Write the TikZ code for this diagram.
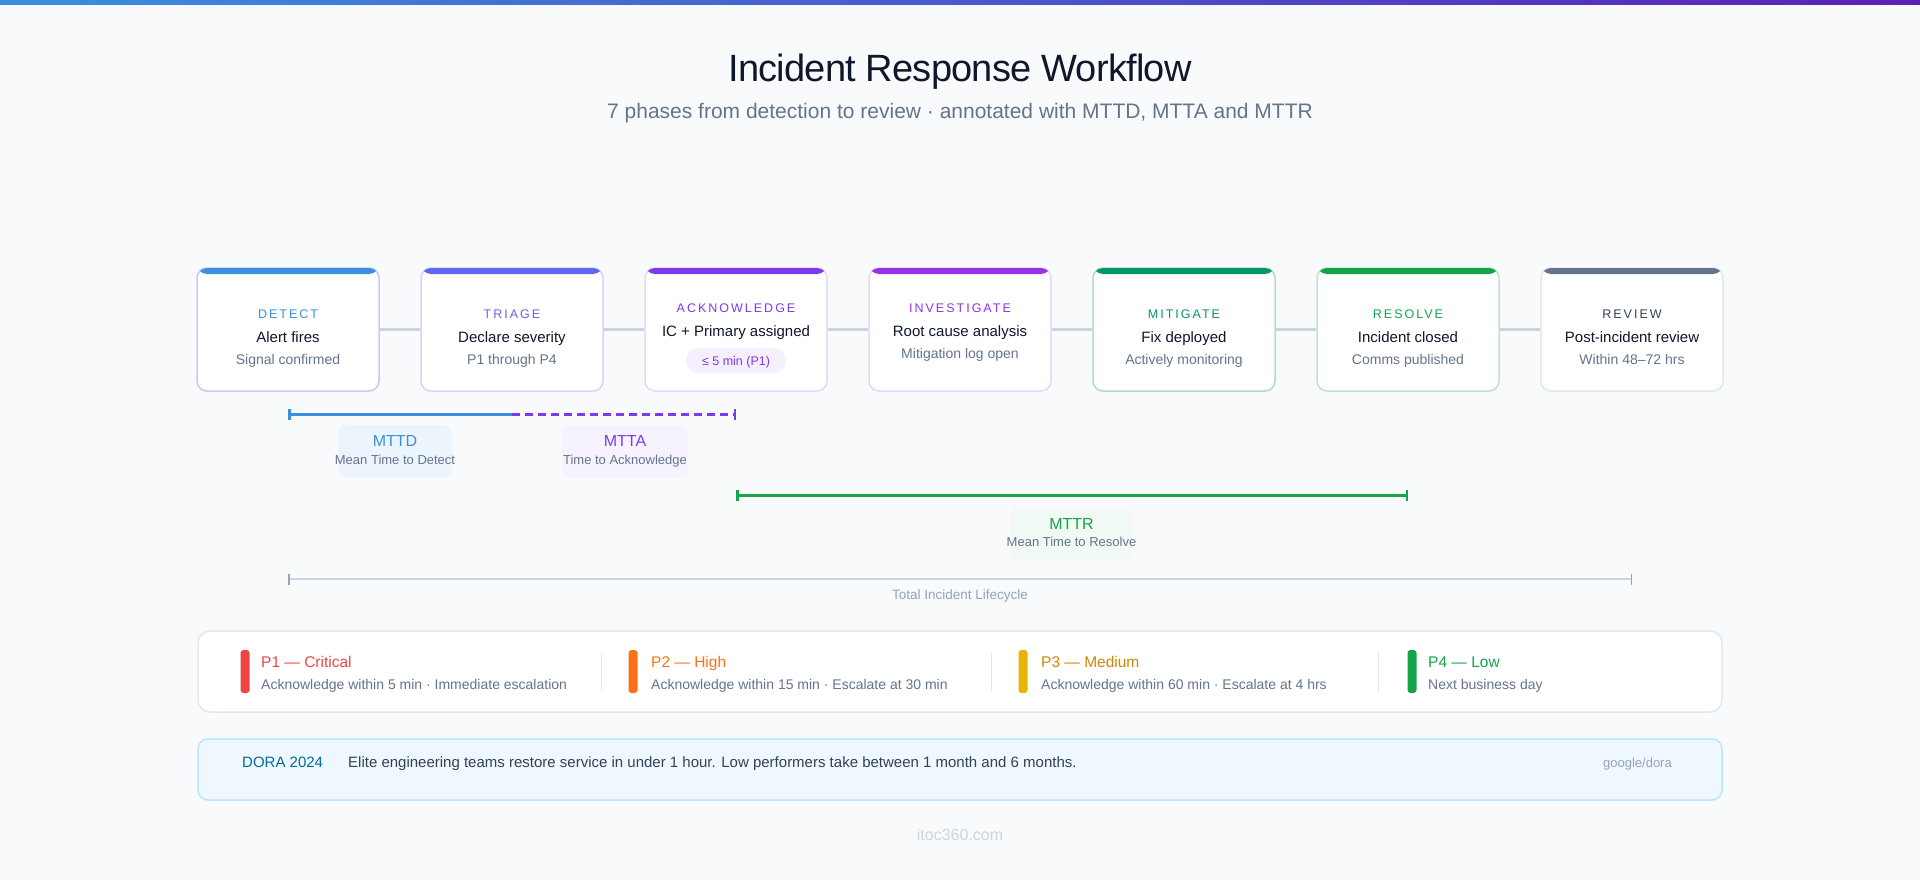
\documentclass[tikz,border=0pt]{standalone}
\usepackage{fontspec}
\setmainfont{Liberation Sans}
\newfontfamily\trackfont[LetterSpace=16]{Liberation Sans}
\newfontfamily\titlefont[LetterSpace=-2]{Liberation Sans}
\usetikzlibrary{arrows.meta,positioning}
\definecolor{irPage}{HTML}{f8fafc}
\definecolor{irInk}{HTML}{0f172a}
\definecolor{irSlate}{HTML}{64748b}
\definecolor{irMute}{HTML}{94a3b8}
\definecolor{irRule}{HTML}{cbd5e1}
\definecolor{irEdge}{HTML}{e2e8f0}
\definecolor{irSky}{HTML}{3b8fe0}
\definecolor{irIndigo}{HTML}{6366f1}
\definecolor{irViolet}{HTML}{7c3aed}
\definecolor{irPurple}{HTML}{9333ea}
\definecolor{irEmerald}{HTML}{059669}
\definecolor{irGreen}{HTML}{16a34a}
\definecolor{irSteel}{HTML}{64748b}
\definecolor{irPlum}{HTML}{5b21b6}
\definecolor{irRed}{HTML}{ef4444}
\definecolor{irOrange}{HTML}{f97316}
\definecolor{irAmber}{HTML}{eab308}
\definecolor{irAmberT}{HTML}{ca8a04}
\definecolor{irNavy}{HTML}{0369a1}
\definecolor{irText}{HTML}{334155}
\definecolor{irIce}{HTML}{f0f8ff}
\definecolor{irIceL}{HTML}{bae6fd}
\newcommand\pxs[1]{\fontsize{#1}{#1}\selectfont}
\tikzset{
  txt/.style={inner sep=0pt, anchor=base},
  phase/.style n args={2}{rectangle, rounded corners=10pt, draw=#2, line width=1.5pt,
              fill=white, minimum width=182pt, minimum height=123pt,
              postaction={path picture={\fill[#1] ([yshift=2pt]path picture bounding box.north west)
                rectangle ([yshift=-6pt]path picture bounding box.north east);}}},
  tag/.style={txt, font=\trackfont\pxs{12.5}, text=#1},
  head/.style={txt, font=\pxs{15}, text=irInk},
  note/.style={txt, font=\pxs{14}, text=irSlate},
  pill/.style={rounded corners=12.5pt, fill=#1, minimum width=100pt, minimum height=25pt, inner sep=0pt},
  link/.style={draw=irRule, line width=3pt},
  span/.style={draw=#1, line width=3pt},
  chip/.style={rounded corners=8pt, fill=#1, minimum height=52pt, inner sep=0pt},
  metric/.style={txt, font=\pxs{16}, text=#1},
  msub/.style={txt, font=\pxs{13}, text=irSlate},
  panel/.style={rounded corners=12pt, draw=irEdge, line width=1.5pt, fill=white, inner sep=0pt},
  sevbar/.style={rounded corners=3pt, fill=#1, minimum width=9pt, minimum height=43pt, inner sep=0pt},
  sevhead/.style={txt, anchor=base west, font=\pxs{15.5}, text=#1},
  sevnote/.style={txt, anchor=base west, font=\pxs{14}, text=irSlate},
  divider/.style={draw=irEdge, line width=1pt},
}
\begin{document}
\begin{tikzpicture}[x=1pt,y=-1pt]
  \useasboundingbox (0,0) rectangle (1920,880);
  \fill[irPage] (0,0) rectangle (1920,880);
  \shade[left color=irSky, right color=irPlum] (0,0) rectangle (1920,4.5);

  % title
  \node[txt, font=\titlefont\pxs{38}, text=irInk] (title) at (960,82) {Incident Response Workflow};
  \node[txt, font=\pxs{21}, text=irSlate] (subtitle) at (960,118.3)
    {7 phases from detection to review · annotated with MTTD, MTTA and MTTR};

  % phases
  \node[phase={irSky}{blue!22}] (det) at (288,329.5) {};
  \node[tag=irSky] (detT) at (288,318) {DETECT};
  \node[head] (detH) at (288,342.5) {Alert fires};
  \node[note] (detN) at (288,364) {Signal confirmed};

  \node[phase={irIndigo}{irIndigo!28}] (tri) at (512,329.5) {};
  \node[tag=irIndigo] (triT) at (512,318) {TRIAGE};
  \node[head] (triH) at (512,342.5) {Declare severity};
  \node[note] (triN) at (512,364) {P1 through P4};

  \node[phase={irViolet}{irViolet!20}] (ack) at (736,329.5) {};
  \node[tag=irViolet] (ackT) at (736,312) {ACKNOWLEDGE};
  \node[head] (ackH) at (736,336.7) {IC + Primary assigned};
  \node[pill=irViolet!8] (ackP) at (736,360.8) {};
  \node[txt, font=\pxs{12.5}, text=irViolet] (ackPT) at (736,365) {≤ 5 min (P1)};

  \node[phase={irPurple}{irPurple!20}] (inv) at (960,329.5) {};
  \node[tag=irPurple] (invT) at (960,312) {INVESTIGATE};
  \node[head] (invH) at (960,336.7) {Root cause analysis};
  \node[note] (invN) at (960,358.3) {Mitigation log open};

  \node[phase={irEmerald}{irEmerald!33}] (mit) at (1184,329.5) {};
  \node[tag=irEmerald] (mitT) at (1184,318) {MITIGATE};
  \node[head] (mitH) at (1184,342.5) {Fix deployed};
  \node[note] (mitN) at (1184,364) {Actively monitoring};

  \node[phase={irGreen}{irGreen!28}] (res) at (1408,329.5) {};
  \node[tag=irGreen] (resT) at (1408,318) {RESOLVE};
  \node[head] (resH) at (1408,342.5) {Incident closed};
  \node[note] (resN) at (1408,364) {Comms published};

  \node[phase={irSteel}{irEdge}] (rev) at (1632,329.5) {};
  \node[tag=irText] (revT) at (1632,318) {REVIEW};
  \node[head] (revH) at (1632,342.5) {Post-incident review};
  \node[note] (revN) at (1632,364) {Within 48–72 hrs};

  \draw[link] (det) -- (tri);
  \draw[link] (tri) -- (ack);
  \draw[link] (ack) -- (inv);
  \draw[link] (inv) -- (mit);
  \draw[link] (mit) -- (res);
  \draw[link] (res) -- (rev);

  % MTTD / MTTA
  \coordinate (tdA) at (det.center |- 0,414);
  \coordinate (tdB) at (tri.center |- 0,414);
  \coordinate (taB) at (ack.center |- 0,414);
  \draw[span=irSky, {Bar[width=11pt,line width=2.5pt]}-] (tdA) -- (tdB);
  \draw[span=irViolet, dash pattern=on 8pt off 5pt, -{Bar[width=11pt,line width=2.5pt]}] (tdB) -- (taB);

  \node[chip=irSky!9, minimum width=114pt] (mttdC) at (395,451) {};
  \node[metric=irSky] (mttd) at (395,446.7) {MTTD};
  \node[msub] (mttdS) at (395,464) {Mean Time to Detect};
  \node[chip=irViolet!6, minimum width=126pt] (mttaC) at (625,451) {};
  \node[metric=irViolet] (mtta) at (625,446.7) {MTTA};
  \node[msub] (mttaS) at (625,464) {Time to Acknowledge};

  % MTTR
  \coordinate (trA) at (ack.center |- 0,495);
  \coordinate (trB) at (res.center |- 0,495);
  \draw[span=irGreen, {Bar[width=11pt,line width=2.5pt]}-{Bar[width=11pt,line width=2.5pt]}] (trA) -- (trB);
  \node[chip=irGreen!6, minimum width=121pt] (mttrC) at (1071.5,534) {};
  \node[metric=irGreen] (mttr) at (1071.5,529.3) {MTTR};
  \node[msub] (mttrS) at (1071.5,546.7) {Mean Time to Resolve};

  % lifecycle
  \coordinate (lcA) at (det.center |- 0,579);
  \coordinate (lcB) at (rev.center |- 0,579);
  \draw[draw=irRule, line width=2pt, {Bar[width=11pt,line width=1.5pt,color=irMute]}-{Bar[width=11pt,line width=1.5pt,color=irMute]}] (lcA) -- (lcB);
  \node[txt, font=\pxs{13.5}, text=irMute] (lcT) at (960,599) {Total Incident Lifecycle};

  % severities
  \node[panel, minimum width=1524pt, minimum height=81pt] (sev) at (960,671.5) {};
  \node[sevbar=irRed] (p1B) at (245,671.5) {};
  \node[sevhead=irRed] (p1H) at (261,667.7) {P1 — Critical};
  \node[sevnote] (p1N) at (261,689) {Acknowledge within 5 min · Immediate escalation};
  \draw[divider] (601,652) -- (601,692);
  \node[sevbar=irOrange] (p2B) at (633,671.5) {};
  \node[sevhead=irOrange] (p2H) at (651,667.7) {P2 — High};
  \node[sevnote] (p2N) at (651,689) {Acknowledge within 15 min · Escalate at 30 min};
  \draw[divider] (991,652) -- (991,692);
  \node[sevbar=irAmber] (p3B) at (1023,671.5) {};
  \node[sevhead=irAmberT] (p3H) at (1041,667.7) {P3 — Medium};
  \node[sevnote] (p3N) at (1041,689) {Acknowledge within 60 min · Escalate at 4 hrs};
  \draw[divider] (1378,652) -- (1378,692);
  \node[sevbar=irGreen] (p4B) at (1412,671.5) {};
  \node[sevhead=irGreen] (p4H) at (1428,667.7) {P4 — Low};
  \node[sevnote] (p4N) at (1428,689) {Next business day};

  % DORA
  \node[panel, fill=irIce, draw=irIceL, rounded corners=10pt, minimum width=1524pt, minimum height=61pt] (dora) at (960,769.5) {};
  \node[txt, anchor=base west, font=\pxs{15}, text=irNavy] (doraT) at (242,767.7) {DORA 2024};
  \node[txt, anchor=base west, font=\pxs{15}, text=irText] (doraN) at (348,767.7)
    {Elite engineering teams restore service in under 1 hour. Low performers take between 1 month and 6 months.};
  \node[txt, anchor=base east, font=\pxs{13}, text=irMute] (doraS) at (1672,767.7) {google/dora};

  \node[txt, font=\pxs{16}, text=irRule] (foot) at (960,840) {itoc360.com};
\end{tikzpicture}
\end{document}
